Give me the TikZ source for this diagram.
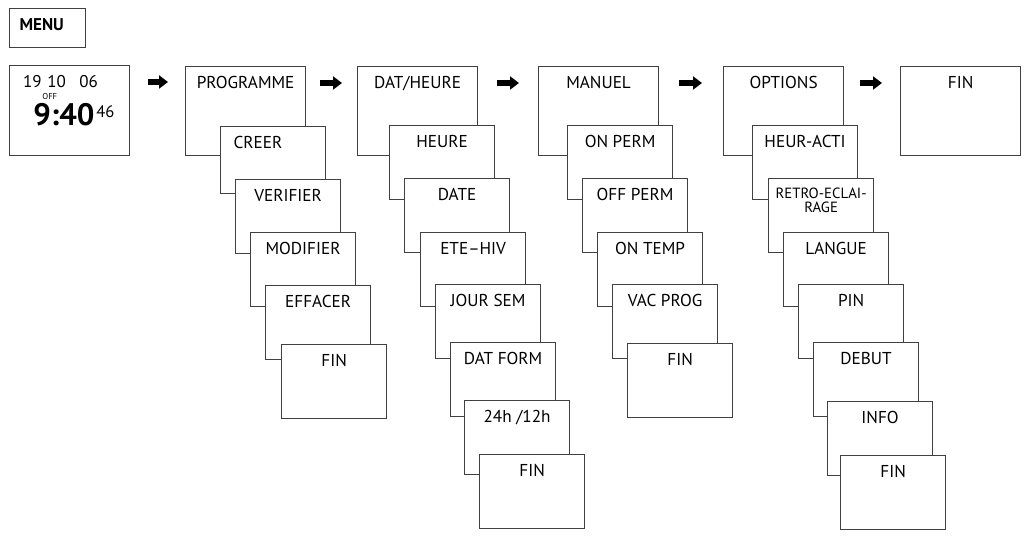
\documentclass[tikz,border=0pt]{standalone}
\usepackage{fontspec}
\setmainfont{PT Sans}
\usetikzlibrary{arrows.meta}
\tikzset{
  head/.style={draw=black!75, line width=0.6pt, fill=white, anchor=north west, inner sep=0pt,
    minimum width=60pt, minimum height=44.5pt, text height=11pt, text depth=33.5pt,
    font=\fontsize{8.6}{10}\selectfont},
  sub/.style={head, minimum width=52.5pt, minimum height=37pt, text depth=26pt},
  arr/.style={-{Triangle[width=6.5pt,length=4.5pt]}, line width=3pt},
}
\begin{document}
\begin{tikzpicture}[x=0.5pt, y=-0.5pt]
  \useasboundingbox (0,0) rectangle (1024,536);
  \node[head, minimum width=38pt, minimum height=19.5pt, text height=11pt, text depth=8.5pt,
    text width=28pt, align=left, inner xsep=5pt, font=\bfseries\fontsize{8.5}{10}\selectfont] (menu) at (9,8) {MENU};
  % affichage de l'horloge
  \node[head, minimum height=45pt, text depth=34pt] (clock) at (9,65) {};
  \node[anchor=base east, inner sep=0pt, font=\fontsize{8.5}{10}\selectfont] (cday) at (42,87) {19};
  \node[anchor=base west, inner sep=0pt, font=\fontsize{8.5}{10}\selectfont] (cmonth) at (47,87) {10};
  \node[anchor=base west, inner sep=0pt, font=\fontsize{8.5}{10}\selectfont] (cyear) at (79,87) {06};
  \node[anchor=base west, inner sep=0pt, font=\fontsize{4.3}{5}\selectfont] (coff) at (42,99) {OFF};
  \node[anchor=base west, inner sep=0pt, font=\bfseries\fontsize{15.5}{17}\selectfont] (ctime) at (33,125) {9:40};
  \node[anchor=base west, inner sep=0pt, font=\fontsize{8.3}{10}\selectfont] (csec) at ([xshift=0.5pt, yshift=4pt]ctime.base east) {46};
  % PROGRAMME
  \node[head] (prog) at (185,66) {PROGRAMME};
  \node[sub, minimum height=33.5pt, text depth=22.5pt, text width=39.5pt, align=left, inner xsep=6.5pt] (creer) at (220,126) {CREER};
  \node[sub] (verif) at (235,179) {VERIFIER};
  \node[sub] (modif) at (250,232) {MODIFIER};
  \node[sub] (effac) at (265,285) {EFFACER};
  \node[sub] (pfin) at (281,344) {FIN};
  % DAT/HEURE
  \node[head] (dat) at (357,66) {DAT/HEURE};
  \node[sub] (heure) at (389,125) {HEURE};
  \node[sub] (date) at (404,178) {DATE};
  \node[sub] (etehiv) at (420,232) {ETE–HIV};
  \node[sub] (jour) at (435,284) {JOUR SEM};
  \node[sub] (datform) at (450,342) {DAT FORM};
  \node[sub] (hfmt) at (464,400) {24h /12h};
  \node[sub] (dfin) at (479,454) {FIN};
  % MANUEL
  \node[head] (man) at (538,66) {MANUEL};
  \node[sub] (onperm) at (567,125) {ON PERM};
  \node[sub] (offperm) at (582,178) {OFF PERM};
  \node[sub] (ontemp) at (597,232) {ON TEMP};
  \node[sub] (vacprog) at (612,284) {VAC PROG};
  \node[sub] (mfin) at (627,343) {FIN};
  % OPTIONS
  \node[head] (opt) at (723,66) {OPTIONS};
  \node[sub] (heuract) at (752,125) {HEUR-ACTI};
  \node[sub, align=center, text height=16.8pt, text depth=20.2pt, font=\fontsize{7.4}{7}\selectfont] (retro) at (768,178) {RETRO-ECLAI-\\RAGE};
  \node[sub] (langue) at (783,232) {LANGUE};
  \node[sub] (pin) at (798,284) {PIN};
  \node[sub] (debut) at (813,342) {DEBUT};
  \node[sub] (info) at (827,401) {INFO};
  \node[sub] (ofin) at (840,455) {FIN};
  \node[head] (fin) at (900,66) {FIN};
  % fleches entre les menus
  \draw[arr, shorten <=9pt, shorten >=8.5pt] ([yshift=-8.5pt]clock.north east) -- ([yshift=-8pt]prog.north west);
  \draw[arr, shorten <=7pt, shorten >=7.5pt] ([yshift=-8.5pt]prog.north east) -- ([yshift=-8.5pt]dat.north west);
  \draw[arr, shorten <=9.5pt, shorten >=9.5pt] ([yshift=-8.5pt]dat.north east) -- ([yshift=-8.5pt]man.north west);
  \draw[arr, shorten <=10pt, shorten >=10.5pt] ([yshift=-8.5pt]man.north east) -- ([yshift=-8.5pt]opt.north west);
  \draw[arr, shorten <=8pt, shorten >=9pt] ([yshift=-8.5pt]opt.north east) -- ([yshift=-8.5pt]fin.north west);
\end{tikzpicture}
\end{document}
